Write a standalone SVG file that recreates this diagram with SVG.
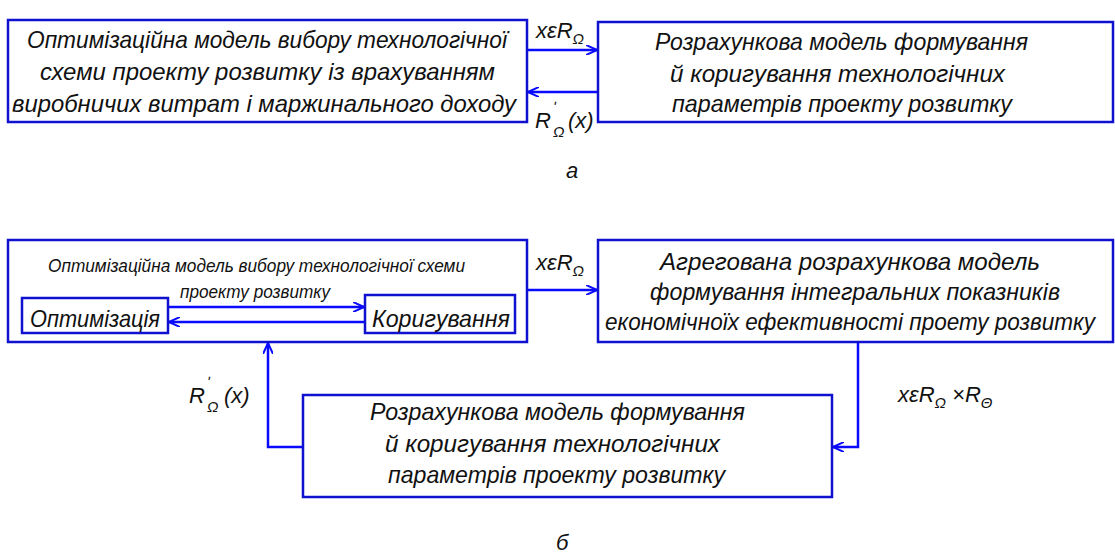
<svg xmlns="http://www.w3.org/2000/svg" width="1115" height="558" viewBox="0 0 1115 558">
<style>
.box{fill:none;stroke:#1010d0;stroke-width:2.5}
.ln{fill:none;stroke:#0a0aff;stroke-width:2.5}
.t{font-family:"Liberation Sans",Arial,sans-serif;font-style:italic;font-size:24px;fill:#111}
.s{font-family:"Liberation Sans",Arial,sans-serif;font-style:italic;font-size:18px;fill:#111}
.m{font-family:"Liberation Sans",Arial,sans-serif;font-style:italic;font-size:22px;fill:#111}
.sub{font-family:"Liberation Sans",Arial,sans-serif;font-style:italic;font-size:15px;fill:#111}
</style>
<defs>
<marker id="ah" viewBox="0 0 12 10" refX="11" refY="5" markerWidth="12" markerHeight="10" markerUnits="userSpaceOnUse" orient="auto">
<path d="M0,0 L11,5 L0,10" fill="none" stroke="#0a0aff" stroke-width="2"/>
</marker>
</defs>
<g id="connectors">
<line class="ln" x1="527" y1="50" x2="597" y2="50" marker-end="url(#ah)"/>
<line class="ln" x1="598" y1="92" x2="528" y2="92" marker-end="url(#ah)"/>
<line class="ln" x1="527" y1="290" x2="597" y2="290" marker-end="url(#ah)"/>
<line class="ln" x1="168" y1="307" x2="364" y2="307" stroke-width="2" marker-end="url(#ah)"/>
<line class="ln" x1="365" y1="322" x2="169" y2="322" stroke-width="2" marker-end="url(#ah)"/>
<polyline class="ln" points="858,342 858,447 833,447" marker-end="url(#ah)"/>
<polyline class="ln" points="303,447 268,447 268,343" marker-end="url(#ah)"/>
</g>
<g id="labels">
<text class="m" x="536" y="38">xεR<tspan class="sub" dy="6">Ω</tspan></text>
<text class="m" x="535" y="128">R</text>
<text class="sub" x="553" y="112">ʹ</text>
<text class="sub" x="553" y="137">Ω</text>
<text class="m" x="568" y="128">(x)</text>
<text class="m" x="536" y="270">xεR<tspan class="sub" dy="6">Ω</tspan></text>
<text class="m" x="189" y="403">R</text>
<text class="sub" x="207" y="387">ʹ</text>
<text class="sub" x="207" y="412">Ω</text>
<text class="m" x="224" y="403">(x)</text>
<text class="m" x="898" y="402">xεR<tspan class="sub" dy="6">Ω</tspan><tspan dy="-6"> ×R</tspan><tspan class="sub" dy="6">Θ</tspan></text>
<text class="m" x="566" y="178">а</text>
<text class="m" x="556" y="550">б</text>
</g>
<g id="nodeA1">
<rect class="box" x="8" y="20" width="519" height="102"/>
<text class="t" x="27" y="48" textLength="480" lengthAdjust="spacingAndGlyphs">Оптимізаційна модель вибору технологічної</text>
<text class="t" x="40" y="80" textLength="455" lengthAdjust="spacingAndGlyphs">схеми проекту розвитку із врахуванням</text>
<text class="t" x="12" y="112" textLength="504" lengthAdjust="spacingAndGlyphs">виробничих витрат і маржинального доходу</text>
</g>
<g id="nodeA2">
<rect class="box" x="598" y="22" width="515" height="100"/>
<text class="t" x="655" y="50" textLength="373" lengthAdjust="spacingAndGlyphs">Розрахункова модель формування</text>
<text class="t" x="670" y="82" textLength="335" lengthAdjust="spacingAndGlyphs">й коригування технологічних</text>
<text class="t" x="672" y="112" textLength="340" lengthAdjust="spacingAndGlyphs">параметрів проекту розвитку</text>
</g>
<g id="nodeB1">
<rect class="box" x="8" y="240" width="519" height="102"/>
<text class="s" x="48" y="272" textLength="417" lengthAdjust="spacingAndGlyphs">Оптимізаційна модель вибору технологічної схеми</text>
<text class="s" x="180" y="298" textLength="150" lengthAdjust="spacingAndGlyphs">проекту розвитку</text>
</g>
<g id="nodeOpt">
<rect class="box" x="22" y="298" width="146" height="35" stroke-width="2"/>
<text class="t" x="30" y="327" textLength="130" lengthAdjust="spacingAndGlyphs">Оптимізація</text>
</g>
<g id="nodeKor">
<rect class="box" x="365" y="295" width="150" height="38" stroke-width="2"/>
<text class="t" x="372" y="327" textLength="138" lengthAdjust="spacingAndGlyphs">Коригування</text>
</g>
<g id="nodeB2">
<rect class="box" x="598" y="240" width="515" height="102"/>
<text class="t" x="660" y="270" textLength="380" lengthAdjust="spacingAndGlyphs">Агрегована розрахункова модель</text>
<text class="t" x="650" y="300" textLength="410" lengthAdjust="spacingAndGlyphs">формування інтегральних показників</text>
<text class="t" x="605" y="330" font-size="22" textLength="490" lengthAdjust="spacingAndGlyphs">економічноїх ефективності проету розвитку</text>
</g>
<g id="nodeB3">
<rect class="box" x="303" y="395" width="529" height="102"/>
<text class="t" x="370" y="420" textLength="375" lengthAdjust="spacingAndGlyphs">Розрахункова модель формування</text>
<text class="t" x="385" y="452" textLength="335" lengthAdjust="spacingAndGlyphs">й коригування технологічних</text>
<text class="t" x="388" y="483" textLength="337" lengthAdjust="spacingAndGlyphs">параметрів проекту розвитку</text>
</g>
</svg>
